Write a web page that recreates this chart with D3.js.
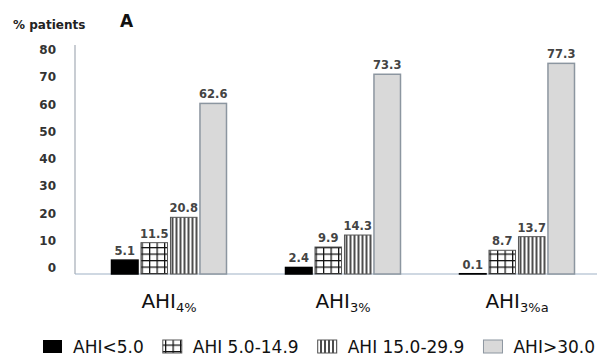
<!DOCTYPE html>
<html>
<head>
<meta charset="utf-8">
<script src="https://cdn.jsdelivr.net/npm/d3@7"></script>
<style>
  html, body { margin: 0; padding: 0; background: #fff; }
  svg { display: block; }
  text { font-family: "DejaVu Sans", sans-serif; }
</style>
</head>
<body>
<svg id="chart" width="597" height="356"></svg>
<script>
// Categories (main text + subscript)
const categories = ["AHI4%", "AHI3%", "AHI3%a"];
const categoryMain = ["AHI", "AHI", "AHI"];
const categorySub = ["4%", "3%", "3%a"];

// Severity series
const seriesNames = ["AHI<5.0", "AHI 5.0-14.9", "AHI 15.0-29.9", "AHI>30.0"];
const sevNormal   = [5.1, 2.4, 0.1];
const sevMild     = [11.5, 9.9, 8.7];
const sevModerate = [20.8, 14.3, 13.7];
const sevSevere   = [62.6, 73.3, 77.3];
const seriesValues = [sevNormal, sevMild, sevModerate, sevSevere];

// Axis ticks
const yTicks = [0, 10, 20, 30, 40, 50, 60, 70, 80];

const svg = d3.select("#chart");
const plotLeft = 75, plotRight = 597, plotTop = 45, plotBottom = 274;

// Fill patterns
const defs = svg.append("defs");
const grid = defs.append("pattern").attr("id", "pGrid")
  .attr("patternUnits", "userSpaceOnUse").attr("width", 7.5).attr("height", 6.5);
grid.append("rect").attr("width", 7.5).attr("height", 6.5).attr("fill", "#fff");
grid.append("line").attr("x1", 0.6).attr("x2", 0.6).attr("y1", 0).attr("y2", 6.5)
  .attr("stroke", "#111").attr("stroke-width", 1.3);
grid.append("line").attr("x1", 0).attr("x2", 7.5).attr("y1", 0.6).attr("y2", 0.6)
  .attr("stroke", "#111").attr("stroke-width", 1.3);

const vlines = defs.append("pattern").attr("id", "pVert")
  .attr("patternUnits", "userSpaceOnUse").attr("width", 4).attr("height", 10);
vlines.append("rect").attr("width", 4).attr("height", 10).attr("fill", "#fff");
vlines.append("line").attr("x1", 1).attr("x2", 1).attr("y1", 0).attr("y2", 10)
  .attr("stroke", "#111").attr("stroke-width", 1.5);

const fills = ["#000", "url(#pGrid)", "url(#pVert)", "#d9d9d9"];
const strokes = ["#000", "#555", "#555", "#8c96a0"];
const strokeWidths = [1.5, 1, 1, 1.5];

// Scales
const y = d3.scaleLinear().domain([0, 80]).range([plotBottom, 56]);
const x0 = d3.scaleBand().domain(categories).range([plotLeft + 7, plotRight + 7]).padding(0);
const x1 = d3.scaleBand().domain(seriesNames).range([0, 115]).paddingInner(0.1).paddingOuter(0);

// Y axis labels
const yAxis = d3.axisLeft(y).tickValues(yTicks).tickSize(0).tickPadding(19);
const gy = svg.append("g").attr("transform", `translate(${plotLeft},0)`).call(yAxis);
gy.select(".domain").remove();
gy.selectAll("text")
  .attr("dy", "-0.2em")
  .attr("fill", "#333")
  .style("font-size", "12px")
  .style("font-weight", "bold")
  .style("font-family", "DejaVu Sans, sans-serif");

// Axis lines
svg.append("line").attr("x1", plotLeft).attr("x2", plotLeft)
  .attr("y1", plotTop).attr("y2", plotBottom)
  .attr("stroke", "#a4acb6").attr("stroke-width", 1.2);
svg.append("line").attr("x1", plotLeft).attr("x2", plotRight)
  .attr("y1", plotBottom).attr("y2", plotBottom)
  .attr("stroke", "#9fb2c6").attr("stroke-width", 1.2);

// Bars
const groups = svg.append("g").selectAll("g")
  .data(categories)
  .join("g")
  .attr("transform", d => `translate(${x0(d) + x0.bandwidth() / 2 - 57.5},0)`);

groups.each(function (cat, ci) {
  const g = d3.select(this);
  const rows = seriesNames.map((s, si) => ({ s, si, v: seriesValues[si][ci] }));
  g.selectAll("rect").data(rows).join("rect")
    .attr("x", d => x1(d.s))
    .attr("y", d => y(d.v))
    .attr("width", x1.bandwidth())
    .attr("height", d => y(0) - y(d.v))
    .attr("fill", d => fills[d.si])
    .attr("stroke", d => strokes[d.si])
    .attr("stroke-width", d => strokeWidths[d.si]);
  g.selectAll("text.val").data(rows).join("text")
    .attr("class", "val")
    .attr("x", d => x1(d.s) + x1.bandwidth() / 2)
    .attr("y", d => y(d.v) - 5)
    .attr("text-anchor", "middle")
    .attr("fill", "#444")
    .style("font-size", "11.5px")
    .style("font-weight", "bold")
    .text(d => d.v.toFixed(1));
});

// Category labels with subscripts
const catLabels = svg.append("g").selectAll("text")
  .data(categories)
  .join("text")
  .attr("x", d => x0(d) + x0.bandwidth() / 2)
  .attr("y", 308)
  .attr("text-anchor", "middle")
  .attr("fill", "#111")
  .style("font-size", "20px");
catLabels.append("tspan").text((d, i) => categoryMain[i]);
catLabels.append("tspan").attr("dy", 4).style("font-size", "13px").text((d, i) => categorySub[i]);

// Title texts
svg.append("text").attr("x", 13).attr("y", 29)
  .attr("fill", "#222").style("font-size", "12px").style("font-weight", "bold")
  .text("% patients");
svg.append("text").attr("x", 120).attr("y", 27)
  .attr("fill", "#111").style("font-size", "17px")
  .style("font-weight", "bold")
  .text("A");

// Legend: items spread between fixed start and end
const legend = svg.append("g");
const legendStart = 43, legendEnd = 595, ly = 347;
const iconW = 19, iconGap = 11;
const items = seriesNames.map((name, i) => {
  const r = legend.append("rect")
    .attr("y", ly - 7).attr("width", iconW).attr("height", 13)
    .attr("fill", fills[i]).attr("stroke", strokes[i]).attr("stroke-width", i === 0 ? 0 : 1);
  const t = legend.append("text")
    .attr("y", ly + 6)
    .attr("fill", "#111")
    .style("font-size", "17px")
    .text(name);
  return { r, t, w: t.node().getComputedTextLength() };
});
const natural = d3.sum(items, d => iconW + iconGap + d.w);
const between = (legendEnd - legendStart - natural) / (items.length - 1);
let lx = legendStart;
items.forEach(d => {
  d.r.attr("x", lx);
  d.t.attr("x", lx + iconW + iconGap);
  lx += iconW + iconGap + d.w + between;
});
</script>
</body>
</html>
